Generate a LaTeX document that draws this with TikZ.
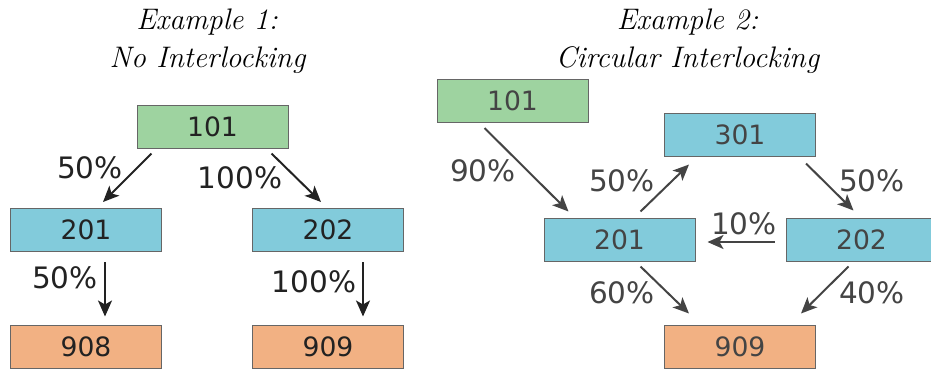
\documentclass[tikz,border=0pt]{standalone}
\usepackage{fontspec}
\newfontfamily\boxfont{DejaVu Sans}
\usetikzlibrary{arrows.meta}
\definecolor{cgreen}{HTML}{9ED3A0}
\definecolor{cblue}{HTML}{82CBDB}
\definecolor{corange}{HTML}{F2B183}
\definecolor{cborder}{HTML}{666666}
\definecolor{ctextL}{HTML}{222222}
\definecolor{ctextR}{HTML}{444444}
\tikzset{
  box/.style={draw=cborder, line width=1pt, minimum width=151pt, minimum height=43pt, inner sep=0pt, font=\boxfont\fontsize{26.6}{32}\selectfont},
  gbox/.style={box, fill=cgreen},
  bbox/.style={box, fill=cblue},
  obox/.style={box, fill=corange},
  lab/.style={inner sep=0pt, font=\boxfont\fontsize{29.5}{34}\selectfont},
  ttl/.style={inner sep=0pt, anchor=base, font=\itshape\fontsize{29.7}{35}\selectfont},
  arr/.style={line width=2pt, -{Stealth[length=16pt,width=14pt,inset=4pt]}},
}
\begin{document}
\begin{tikzpicture}[x=1pt,y=-1pt]
\useasboundingbox (0,0) rectangle (931,368);
\clip (0,0) rectangle (931,368);
% ---------- Example 1 ----------
\node[ttl] (t1a) at (207,29) {Example 1:};
\node[ttl] (t1b) at (207.5,67) {No Interlocking};
\begin{scope}[text=ctextL]
\node[gbox] (L101) at (212.5,126.5) {101};
\node[bbox] (L201) at (86,230) {201};
\node[bbox] (L202) at (328,230) {202};
\node[obox] (L908) at (86,346.5) {908};
\node[obox] (L909) at (328,346.5) {909};
\end{scope}
\begin{scope}[draw=ctextL, fill=ctextL]
\draw[arr] ([shift={(15,5)}]L101.south west) -- ([shift={(93,-6)}]L201.north west);
\draw[arr] ([shift={(135,5)}]L101.south west) -- ([shift={(69,-6)}]L202.north west);
\draw[arr] ([shift={(95,10)}]L201.south west) -- ([shift={(95,-8)}]L908.north west);
\draw[arr] ([shift={(111,10)}]L202.south west) -- ([shift={(111,-8)}]L909.north west);
\end{scope}
\begin{scope}[text=ctextL]
\node[lab] (l1) at (90,168) {50\%};
\node[lab] (l2) at (240,178) {100\%};
\node[lab] (l3) at (65,278) {50\%};
\node[lab] (l4) at (314,282) {100\%};
\end{scope}
% ---------- Example 2 ----------
\node[ttl] (t2a) at (687.5,29) {Example 2:};
\node[ttl] (t2b) at (687.5,67) {Circular Interlocking};
\begin{scope}[text=ctextR]
\node[gbox] (R101) at (512.5,101) {101};
\node[bbox] (R301) at (740,134.5) {301};
\node[bbox] (R201) at (619.5,239.5) {201};
\node[bbox] (R202) at (861.5,239.5) {202};
\node[obox] (R909) at (740,346.5) {909};
\end{scope}
\begin{scope}[draw=ctextR, fill=ctextR]
\draw[arr] ([shift={(48,5)}]R101.south west) -- ([shift={(25,-6)}]R201.north west);
\draw[arr] ([shift={(97,-6)}]R201.north west) -- ([shift={(25,8)}]R301.south west);
\draw[arr] ([shift={(142,7)}]R301.south west) -- ([shift={(68,-7)}]R202.north west);
\draw[arr] ([shift={(-11,2.5)}]R202.west) -- ([shift={(12,2.5)}]R201.east);
\draw[arr] ([shift={(97,5)}]R201.south west) -- ([shift={(25,-11)}]R909.north west);
\draw[arr] ([shift={(63,5)}]R202.south west) -- ([shift={(137,-11)}]R909.north west);
\end{scope}
\begin{scope}[text=ctextR]
\node[lab] (r1) at (483,171) {90\%};
\node[lab] (r2) at (622,181) {50\%};
\node[lab] (r3) at (872,181) {50\%};
\node[lab] (r4) at (744,224) {10\%};
\node[lab] (r5) at (622,293) {60\%};
\node[lab] (r6) at (872,293) {40\%};
\end{scope}
\end{tikzpicture}
\end{document}
